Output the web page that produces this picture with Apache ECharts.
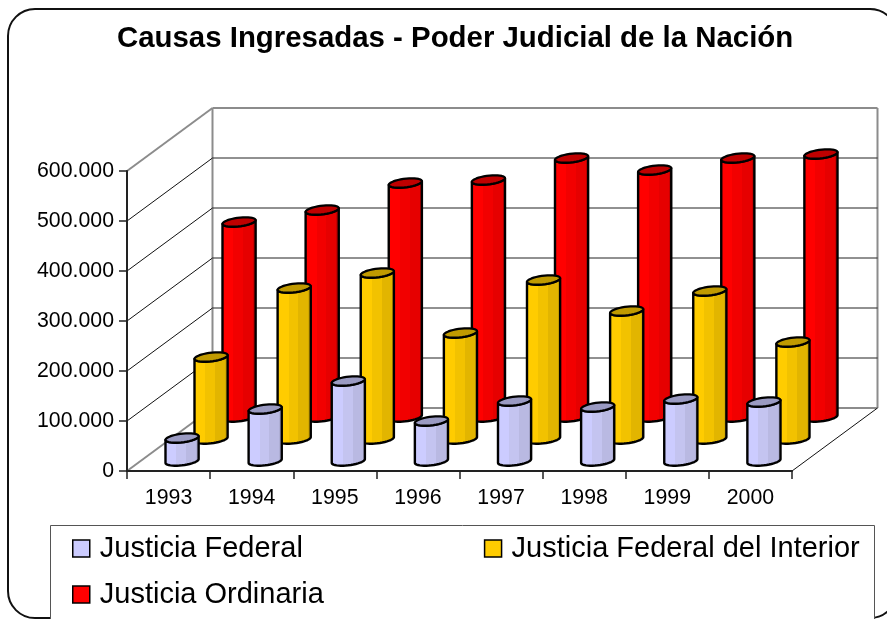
<!DOCTYPE html>
<html><head><meta charset="utf-8">
<style>html,body{margin:0;padding:0;background:#fff}#c{width:887px;height:619px}</style>
<script src="https://cdn.jsdelivr.net/npm/echarts@6/dist/echarts.min.js"></script>
</head><body><div id="c"></div>
<script>
const titleText = 'Causas Ingresadas - Poder Judicial de la Nación';
const years = ['1993','1994','1995','1996','1997','1998','1999','2000'];
const yTicks = [0,100000,200000,300000,400000,500000,600000];
const federal = [46000,104000,160000,80000,120000,108000,124000,118000];
const interior = [164000,302000,332000,212000,318000,256000,296000,194000];
const ordinaria = [390000,414000,468000,474000,518000,494000,518000,526000];

const FONT = '"Liberation Sans", Arial, sans-serif';
const WALL = {dx: 85.5, dy: -63};
const RING = {r:15.2,sx:6.6,sy:4.7};
function shade(stops){
  const cs=[];stops.forEach((c,i)=>{const a=[0,.34,.62,.9,1];cs.push({offset:a[i],color:c});cs.push({offset:a[i+1],color:c});});
  return {type:'linear',x:0,y:0,x2:1,y2:0,colorStops:cs};
}
const looks = {
  f:{depth:13.5,lift:-10,top:'#9a9ac2',side:shade(['#ccccff','#c4c4f0','#b9b9e2','#aeaed4'])},
  i:{depth:42.5,lift:-32,top:'#c09a00',side:shade(['#ffcc00','#f2c200','#e2b500','#d2a800'])},
  o:{depth:70.5,lift:-54,top:'#bf0000',side:shade(['#ff0000','#f20000','#e60000','#c80000'])}
};
function ring(cx,cy,from,to,n){
  const pts=[];
  for(let k=0;k<=n;k++){const t=from+(to-from)*k/n;pts.push([cx+RING.r*Math.cos(t)+RING.sx*Math.sin(t),cy-RING.sy*Math.sin(t)]);}
  return pts;
}
function cylinder(look){
  return function(params,api){
    const i=api.value(0),v=api.value(1);
    const base=api.coord([i,0]),top=api.coord([i,v]);
    const cx=base[0]+look.depth,by=base[1]+look.lift,ty=top[1]+look.lift;
    const tR=Math.atan2(RING.sx,RING.r),tL=tR+Math.PI;
    const lower=ring(cx,by,tL,tR+2*Math.PI,20);
    const upper=ring(cx,ty,tR+2*Math.PI,tL,20);
    return {type:'group',children:[
      {type:'polygon',shape:{points:lower.concat(upper)},style:{fill:look.side,stroke:'#000',lineWidth:2.4,lineJoin:'round'}},
      {type:'polygon',shape:{points:ring(cx,ty,0,2*Math.PI,36)},style:{fill:look.top,stroke:'#000',lineWidth:2.2,lineJoin:'round'}}
    ]};
  };
}
function wall(params,api){
  const cs=params.coordSys,v=api.value(0),y=api.coord([0,v])[1];
  const gray=(v===yTicks[0]||v===yTicks[yTicks.length-1]);
  const x0=cs.x,x1=cs.x+cs.width,bx=x0+WALL.dx,by=y+WALL.dy,ex=x1+WALL.dx;
  const kids=[
    {type:'polyline',shape:{points:[[x0,y],[bx,by]]},style:{fill:null,stroke:gray?'#8c8c8c':'#111',lineWidth:gray?2:1}},
    {type:'polyline',shape:{points:[[bx,by],[ex,by]]},style:{fill:null,stroke:gray?'#8c8c8c':'#222',lineWidth:gray?2:1}}
  ];
  if(v===yTicks[0]){
    const ty=api.coord([0,yTicks[yTicks.length-1]])[1]+WALL.dy;
    kids.push({type:'polyline',shape:{points:[[bx,by],[bx,ty]]},style:{fill:null,stroke:'#8c8c8c',lineWidth:2}});
    kids.push({type:'polyline',shape:{points:[[ex,by],[ex,ty]]},style:{fill:null,stroke:'#8c8c8c',lineWidth:2}});
    kids.push({type:'polyline',shape:{points:[[x1,y],[ex,by]]},style:{fill:null,stroke:'#111',lineWidth:1}});
  }
  return {type:'group',children:kids};
}
const chart=echarts.init(document.getElementById('c'),null,{renderer:'canvas'});
const legendItem=(name,color)=>({name,icon:'rect',itemStyle:{color,borderColor:'#000',borderWidth:1.5}});
const legendBase={orient:'horizontal',padding:0,itemWidth:17,itemHeight:17,itemGap:180,selectedMode:false,
  textStyle:{fontFamily:FONT,fontSize:29,color:'#000',padding:[0,0,0,5]}};
const pairs=(a)=>a.map((v,i)=>[i,v]);
chart.setOption({
  animation:false,backgroundColor:'#fff',
  title:{text:titleText,left:117,top:24,padding:0,textStyle:{fontFamily:FONT,fontWeight:'bold',fontSize:29.4,color:'#000'}},
  grid:{left:127,top:171,width:665,height:300,containLabel:false},
  xAxis:{type:'category',data:years,boundaryGap:true,z:5,
    axisLine:{show:true,lineStyle:{color:'#222',width:2}},
    axisTick:{show:true,alignWithLabel:false,length:8,lineStyle:{color:'#222',width:1.5}},
    axisLabel:{margin:17,fontFamily:FONT,fontSize:21.3,color:'#000'},splitLine:{show:false}},
  yAxis:{type:'value',min:0,max:600000,interval:100000,z:5,
    axisLine:{show:true,lineStyle:{color:'#222',width:2}},
    axisTick:{show:true,length:8,lineStyle:{color:'#222',width:1.5}},
    splitLine:{show:false},
    axisLabel:{margin:13,fontFamily:FONT,fontSize:21.3,color:'#000',
      formatter:v=>String(v).replace(/\B(?=(\d{3})+$)/g,'.')}},
  legend:[
    Object.assign({},legendBase,{left:72,top:534,itemGap:181,data:[legendItem('Justicia Federal','#ccccff'),legendItem('Justicia Federal del Interior','#ffcc00')]}),
    Object.assign({},legendBase,{left:72,top:580,data:[legendItem('Justicia Ordinaria','#ff0000')]})
  ],
  graphic:[
    {type:'rect',silent:true,z:-10,shape:{x:8,y:9,width:889,height:609,r:27},style:{fill:'#fff',stroke:'#111',lineWidth:2}},
    {type:'rect',silent:true,z:-9,shape:{x:50.5,y:525.5,width:824,height:110},style:{fill:'#fff',stroke:'#555',lineWidth:1}}
  ],
  series:[
    {type:'custom',name:'walls',coordinateSystem:'cartesian2d',z:1,silent:true,data:yTicks.map(v=>[v]),encode:{y:0},renderItem:wall},
    {type:'custom',name:'Justicia Ordinaria',z:2,silent:true,itemStyle:{color:'#ff0000'},data:pairs(ordinaria),encode:{x:0,y:1},renderItem:cylinder(looks.o)},
    {type:'custom',name:'Justicia Federal del Interior',z:3,silent:true,itemStyle:{color:'#ffcc00'},data:pairs(interior),encode:{x:0,y:1},renderItem:cylinder(looks.i)},
    {type:'custom',name:'Justicia Federal',z:4,silent:true,itemStyle:{color:'#ccccff'},data:pairs(federal),encode:{x:0,y:1},renderItem:cylinder(looks.f)}
  ]
});
</script></body></html>
